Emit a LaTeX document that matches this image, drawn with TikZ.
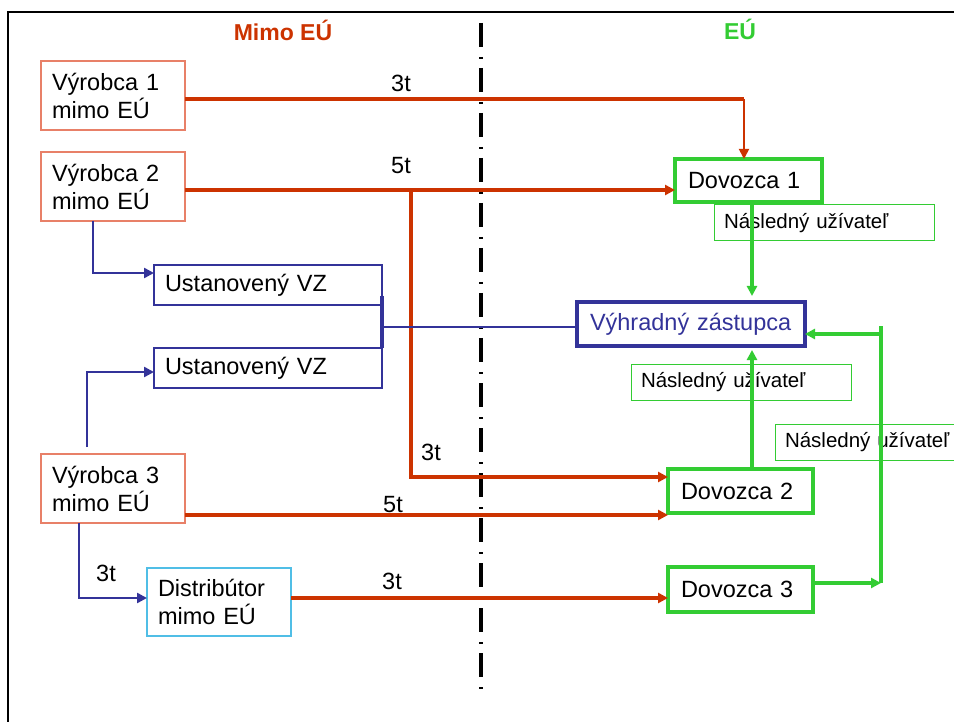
\documentclass[tikz,border=0pt]{standalone}
\usepackage{fontspec}
\setmainfont{Liberation Sans}
\usetikzlibrary{arrows.meta}

\definecolor{redc}{RGB}{204,51,0}
\definecolor{greenc}{RGB}{51,204,51}
\definecolor{bluec}{RGB}{51,51,153}
\definecolor{salmonc}{RGB}{232,128,104}
\definecolor{lbluec}{RGB}{80,190,230}

\tikzset{
  box/.style={draw, rectangle, anchor=north west, outer sep=0pt, inner xsep=11pt, inner ysep=0pt, align=left},
  maker/.style={box, draw=salmonc, line width=1.8pt, minimum height=69pt, text width=122pt},
  agent/.style={box, draw=bluec, line width=1.2pt, minimum height=40pt, text width=206pt},
  importer/.style={box, draw=greenc, line width=4pt, inner xsep=13pt},
  user/.style={box, draw=greenc, line width=1pt, inner xsep=10pt, minimum height=36pt, text width=200pt, font=\fontsize{20.5}{24}\selectfont},
  redline/.style={draw=redc, line width=3.1pt},
  blueline/.style={draw=bluec, line width=2.4pt},
  greenline/.style={draw=greenc, line width=3.2pt},
  tip/.style={-{Triangle[length=10pt,width=10pt]}},
  amount/.style={anchor=center}
}

\begin{document}
\begin{tikzpicture}[x=1pt, y=-1pt, font=\fontsize{23.5}{28}\selectfont]
  \useasboundingbox (0,0) rectangle (954,722);
  % frame and border between the two areas
  \draw[line width=2.4pt] (8,730) -- (8,12) -- (960,12);
  \draw[line width=3.2pt, dash pattern=on 24pt off 10pt on 2pt off 9pt] (481,23) -- (481,690);
  \node[anchor=base, text=redc, font=\fontsize{23}{28}\selectfont\bfseries] (out) at (283,41) {Mimo EÚ};
  \node[anchor=base, text=greenc, font=\fontsize{23}{28}\selectfont\bfseries] (in) at (740,40) {EÚ};

  % outside the EU
  \node[maker] (v1) at (41,61) {Výrobca 1\\mimo EÚ};
  \node[maker] (v2) at (41,152) {Výrobca 2\\mimo EÚ};
  \node[maker] (v3) at (41,454) {Výrobca 3\\mimo EÚ};
  \node[box, draw=lbluec, line width=1.8pt, minimum height=68pt, text width=122pt] (dist) at (147,568) {Distribútor\\mimo EÚ};
  \node[agent] (u1) at (154,265) {Ustanovený VZ};
  \node[agent] (u2) at (154,348) {Ustanovený VZ};

  % inside the EU
  \node[box, draw=bluec, line width=3.4pt, inner xsep=13pt, minimum height=44pt, text width=202pt, text=bluec] (vz) at (577,302) {Výhradný zástupca};
  \node[importer, minimum height=43pt, text width=121pt] (d1) at (675,159) {Dovozca 1};
  \node[importer, minimum height=44pt, text width=119pt] (d2) at (668,469) {Dovozca 2};
  \node[importer, minimum height=45pt, text width=119pt] (d3) at (668,567) {Dovozca 3};
  \node[user] (n1) at (714,205) {Následný užívateľ};
  \node[user] (n2) at (631,364) {Následný užívateľ};
  \node[user] (n3) at (775,424) {Následný užívateľ};

  % points where lines turn
  \coordinate (o1) at ([yshift=-3.5pt]v1.east);
  \coordinate (o2) at ([yshift=-3.5pt]v2.east);
  \coordinate (o3) at ([yshift=-26.5pt]v3.east);
  \coordinate (o4) at ([yshift=6.5pt]d3.east);
  \coordinate (c1) at (744,99);
  \coordinate (b2) at (411,190);
  \coordinate (j) at (382,327);
  \coordinate (k) at (881,326);

  % quantities
  \draw[redline] (o1) -- (c1);
  \draw[draw=redc, line width=1.8pt, tip] (c1) -- (c1 |- d1.north);
  \draw[redline, tip] (o2) -- (o2 -| d1.west);
  \draw[redline, tip] (b2) |- ([yshift=14pt]d2.west);
  \draw[redline, tip] (o3) -- (o3 -| d2.west);
  \draw[redline, tip] ([yshift=4pt]dist.east) -- ([yshift=4pt]dist.east -| d3.west);
  \node[amount] (q1) at (401,83) {3t};
  \node[amount] (q2) at (401,166) {5t};
  \node[amount] (q3) at (431,452) {3t};
  \node[amount] (q4) at (393,505) {5t};
  \node[amount] (q5) at (392,581) {3t};
  \node[amount] (q6) at (106,573) {3t};

  % representatives
  \draw[blueline, tip] ([xshift=-20pt]v2.south) |- ([yshift=12pt]u1.west);
  \draw[blueline, tip] ([xshift=-26pt,yshift=7pt]v3.north) |- ([yshift=-4pt]u2.west);
  \draw[blueline, tip] ([xshift=-34pt]v3.south) |- ([yshift=4pt]dist.west);
  \draw[draw=bluec, line width=3.4pt] ([yshift=-11pt]u1.east) -- (u2.north east);
  \draw[blueline] (j) -- (j -| vz.west);

  % downstream users
  \draw[greenline, tip, shorten >=6pt] ([xshift=3.5pt]d1.south) -- ([xshift=3.5pt]d1.south |- vz.north);
  \draw[greenline, tip, shorten >=4pt] ([xshift=11.5pt]d2.north) -- ([xshift=11.5pt]d2.north |- vz.south);
  \draw[greenline, tip] (o4) -- (o4 -| k);
  \draw[greenline] (o4 -| k) -- (k);
  \draw[greenline, tip] ([yshift=-10pt]vz.east -| k) -- ([yshift=-10pt]vz.east);
\end{tikzpicture}
\end{document}
